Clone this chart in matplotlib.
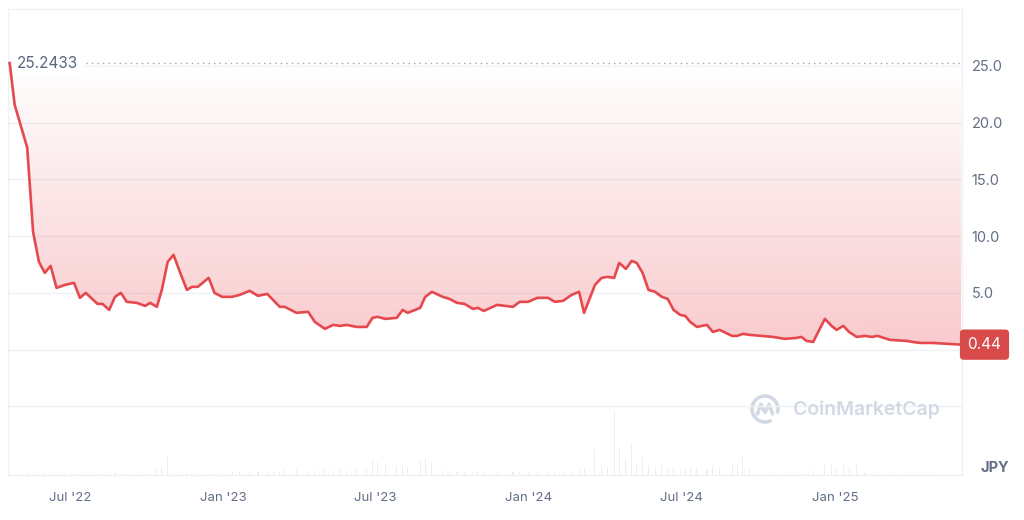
import numpy as np
import pandas as pd
import matplotlib
matplotlib.use("Agg")
from matplotlib import pyplot as plt
import matplotlib.dates as mdates
from matplotlib.patches import Arc

plt.rcParams["font.family"] = ["Inter", "DejaVu Sans"]

dates = [
    "2022-04-20", "2022-04-26", "2022-05-11", "2022-05-18", "2022-05-25", "2022-06-01",
    "2022-06-08", "2022-06-15", "2022-06-25", "2022-07-06", "2022-07-13", "2022-07-20",
    "2022-07-29", "2022-08-03", "2022-08-09", "2022-08-17", "2022-08-24", "2022-08-31",
    "2022-09-07", "2022-09-19", "2022-09-29", "2022-10-05", "2022-10-13", "2022-10-19",
    "2022-10-26", "2022-11-02", "2022-11-10", "2022-11-18", "2022-11-24", "2022-12-01",
    "2022-12-14", "2022-12-21", "2022-12-30", "2023-01-11", "2023-01-20", "2023-02-01",
    "2023-02-11", "2023-02-22", "2023-03-01", "2023-03-09", "2023-03-15", "2023-03-29",
    "2023-04-12", "2023-04-20", "2023-05-02", "2023-05-12", "2023-05-20", "2023-05-28",
    "2023-06-09", "2023-06-21", "2023-06-28", "2023-07-04", "2023-07-13", "2023-07-27",
    "2023-08-03", "2023-08-09", "2023-08-24", "2023-08-30", "2023-09-07", "2023-09-20",
    "2023-09-28", "2023-10-07", "2023-10-16", "2023-10-26", "2023-11-01", "2023-11-08",
    "2023-11-24", "2023-12-13", "2023-12-21", "2023-12-31", "2024-01-11", "2024-01-24",
    "2024-02-01", "2024-02-11", "2024-02-21", "2024-03-01", "2024-03-07", "2024-03-20",
    "2024-03-28", "2024-04-04", "2024-04-12", "2024-04-18", "2024-04-26", "2024-05-03",
    "2024-05-09", "2024-05-16", "2024-05-23", "2024-05-31", "2024-06-08", "2024-06-15",
    "2024-06-22", "2024-06-30", "2024-07-06", "2024-07-12", "2024-07-20", "2024-08-01",
    "2024-08-08", "2024-08-16", "2024-08-31", "2024-09-06", "2024-09-13", "2024-09-21",
    "2024-10-19", "2024-11-02", "2024-11-16", "2024-11-22", "2024-11-28", "2024-12-06",
    "2024-12-20", "2024-12-28", "2025-01-03", "2025-01-11", "2025-01-18", "2025-01-27",
    "2025-02-06", "2025-02-14", "2025-02-21", "2025-03-08", "2025-03-28", "2025-04-04",
    "2025-04-13", "2025-04-28", "2025-06-01",
]

prices = [
    25.2433, 21.56, 17.78, 10.37, 7.73, 6.76,
    7.38, 5.44, 5.70, 5.88, 4.56, 5.00,
    4.38, 4.03, 4.03, 3.50, 4.65, 5.00,
    4.21, 4.12, 3.85, 4.12, 3.77, 5.26,
    7.73, 8.35, 6.76, 5.26, 5.53, 5.53,
    6.32, 5.00, 4.65, 4.65, 4.82, 5.18,
    4.74, 4.91, 4.38, 3.77, 3.77, 3.24,
    3.33, 2.44, 1.83, 2.18, 2.09, 2.18,
    2.00, 2.00, 2.80, 2.89, 2.71, 2.80,
    3.50, 3.24, 3.68, 4.65, 5.09, 4.65,
    4.47, 4.12, 4.03, 3.59, 3.68, 3.41,
    3.94, 3.77, 4.21, 4.21, 4.56, 4.56,
    4.21, 4.30, 4.82, 5.09, 3.24, 5.70,
    6.32, 6.41, 6.32, 7.64, 7.11, 7.82,
    7.64, 6.76, 5.26, 5.09, 4.65, 4.47,
    3.50, 3.06, 2.97, 2.44, 2.00, 2.18,
    1.56, 1.74, 1.21, 1.21, 1.39, 1.30,
    1.12, 0.95, 1.03, 1.12, 0.77, 0.68,
    2.71, 2.09, 1.74, 2.09, 1.56, 1.12,
    1.21, 1.12, 1.21, 0.86, 0.77, 0.68,
    0.59, 0.59, 0.44,
]

volumes = [
    1, 1, 2, 1, 1, 2,
    1, 1, 2, 1, 2, 1,
    1, 2, 1, 1, 2, 1,
    2, 1, 1, 2, 7, 7,
    20, 2, 1, 2, 1, 2,
    1, 2, 2, 3, 3, 3,
    3, 4, 3, 4, 5, 5,
    4, 5, 6, 5, 6, 5,
    6, 7, 16, 13, 12, 9,
    10, 8, 14, 17, 12, 5,
    4, 3, 4, 3, 4, 3,
    4, 3, 4, 3, 4, 3,
    4, 4, 4, 5, 7, 26,
    10, 8, 65, 28, 14, 30,
    12, 18, 10, 8, 9, 7,
    8, 6, 7, 8, 6, 5,
    9, 7, 12, 10, 18, 6,
    1, 1, 1, 1, 2, 5,
    10, 12, 7, 10, 8, 12,
    2, 1, 1, 1, 1, 1,
    1, 1, 1,
]

baseline = 25.2433
last_price = "0.44"
y_ticks = [5, 10, 15, 20, 25]
x_ticks = ["2022-07-01", "2023-01-01", "2023-07-01", "2024-01-01", "2024-07-01", "2025-01-01"]
x_labels = ["Jul '22", "Jan '23", "Jul '23", "Jan '24", "Jul '24", "Jan '25"]

red = "#e5484d"
grey_txt = "#616e85"
grid_c = "#eff2f5"

dt = pd.to_datetime(dates)
xnum = mdates.date2num(dt)

fig = plt.figure(figsize=(10.24, 5.2), dpi=100)
ax = fig.add_axes([8 / 1024, 45 / 520, 954 / 1024, 466 / 520])
x0 = mdates.date2num(pd.Timestamp("2022-04-18"))
x1 = mdates.date2num(pd.Timestamp("2025-06-02"))

# volume bars on a twin axis
axv = ax.twinx()
axv.bar(xnum, volumes, width=1.3, color="#eceef1", zorder=1)
axv.set_ylim(0, max(volumes) * 466 / 65)
axv.set_yticks([])
for s in axv.spines.values():
    s.set_visible(False)
ax.set_zorder(axv.get_zorder() + 1)
ax.patch.set_visible(False)

# gradient fill between the line and the starting price
poly = ax.fill_between(xnum, prices, baseline, facecolor="none", edgecolor="none")
n = 256
grad = np.zeros((n, 1, 4))
grad[:, 0, 0] = 234 / 255
grad[:, 0, 1] = 57 / 255
grad[:, 0, 2] = 67 / 255
grad[:, 0, 3] = np.linspace(0.0, 0.27, n)
im = ax.imshow(grad, extent=[x0, x1, 0, baseline], origin="upper", aspect="auto", zorder=2)
im.set_clip_path(poly.get_paths()[0], transform=ax.transData)

ax.plot(xnum, prices, color=red, lw=1.9, zorder=4, solid_joinstyle="round")
ax.axhline(baseline, color="#9aa3b2", lw=1, ls=(0, (1, 3)), zorder=3)

ax.set_xlim(x0, x1)
ax.set_ylim(-11.04, 30.0)

ax.set_yticks([-5, 0] + y_ticks)
ax.set_yticklabels(["", ""] + ["%.1f" % v for v in y_ticks])
ax.yaxis.tick_right()
ax.tick_params(axis="y", length=0, pad=7, labelsize=10.5, labelcolor=grey_txt)
ax.set_xticks(mdates.date2num(pd.to_datetime(x_ticks)))
ax.set_xticklabels(x_labels)
ax.tick_params(axis="x", length=0, pad=12, labelsize=9.5, labelcolor=grey_txt)
ax.grid(axis="y", color=grid_c, lw=1)
ax.grid(axis="x", visible=False)
for s in ax.spines.values():
    s.set_color(grid_c)
    s.set_linewidth(1)

# start price label
ax.text(x0 + 11, baseline, "%.4f" % baseline, ha="left", va="center", fontsize=11,
        color="#58667e", zorder=5,
        bbox=dict(boxstyle="square,pad=0.3", fc="white", ec="none"))

# last price badge
ax.annotate(last_price, xy=(1.0, prices[-1]), xycoords=("axes fraction", "data"),
            xytext=(4, 0), textcoords="offset points", ha="left", va="center",
            fontsize=11, color="white", zorder=6, annotation_clip=False,
            bbox=dict(boxstyle="round,pad=0.5,rounding_size=0.25", fc="#d94a4a", ec="none"))

fig.text(995 / 1024, 1 - 468 / 520, "JPY", ha="center", va="center", fontsize=10.5,
         fontweight="bold", color=grey_txt)

# watermark
wm = "#d3d9e4"
fig.text(793 / 1024, 1 - 410 / 520, "CoinMarketCap", ha="left", va="center",
         fontsize=14, fontweight="semibold", color=wm)
lax = fig.add_axes([750 / 1024, 1 - 424 / 520, 30 / 1024, 30 / 520])
lax.set_xlim(-1.1, 1.1)
lax.set_ylim(-1.1, 1.1)
lax.set_aspect("equal")
lax.axis("off")
lax.add_patch(Arc((0, 0), 1.9, 1.9, theta1=-20, theta2=300, color=wm, lw=2.6))
lax.plot([-0.55, -0.3, 0.0, 0.3, 0.55], [-0.35, 0.35, -0.25, 0.35, -0.35], color=wm, lw=2.6,
         solid_capstyle="round", solid_joinstyle="round")

fig.savefig("out.png", dpi=100, facecolor="white")
